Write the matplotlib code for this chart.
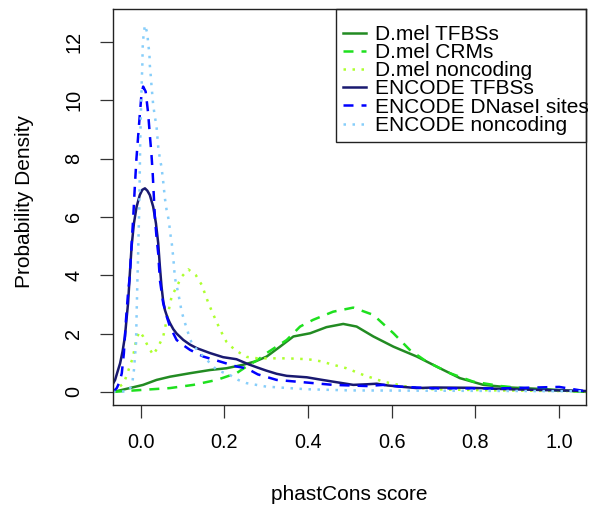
import matplotlib
matplotlib.use("Agg")
import matplotlib.pyplot as plt
from matplotlib.patches import Rectangle

plt.rcParams['font.family'] = ['Liberation Sans', 'DejaVu Sans']

# ---- data ----
dmel_tfbs_x = [-0.065, -0.026, 0.006, 0.038, 0.07, 0.118, 0.166, 0.205, 0.245, 0.275, 0.301, 0.333,
               0.365, 0.405, 0.444, 0.484, 0.516, 0.556, 0.604, 0.66, 0.715, 0.763, 0.819, 0.882,
               0.97, 1.064]
dmel_tfbs_y = [0.0, 0.13, 0.24, 0.41, 0.52, 0.64, 0.75, 0.81, 0.93, 1.05, 1.21, 1.55,
               1.9, 2.01, 2.22, 2.33, 2.24, 1.9, 1.55, 1.21, 0.81, 0.47, 0.24, 0.15,
               0.09, 0.0]

dmel_crm_x = [-0.065, 0.006, 0.07, 0.126, 0.182, 0.229, 0.253, 0.28, 0.301, 0.349, 0.381, 0.412,
              0.46, 0.508, 0.556, 0.604, 0.643, 0.683, 0.739, 0.795, 0.86, 0.94, 1.064]
dmel_crm_y = [0.0, 0.07, 0.13, 0.24, 0.41, 0.64, 0.87, 1.1, 1.33, 1.78, 2.24, 2.47,
              2.75, 2.89, 2.64, 2.01, 1.44, 1.04, 0.64, 0.35, 0.2, 0.09, 0.0]

dmel_nc_x = [-0.066, -0.04, -0.026, -0.018, -0.014, -0.008, -0.002, 0.006, 0.018, 0.030, 0.042,
             0.054, 0.064, 0.074, 0.086, 0.098, 0.114, 0.132, 0.146, 0.162, 0.174, 0.19, 0.205,
             0.225, 0.253, 0.28, 0.301, 0.35, 0.40, 0.43, 0.46, 0.492, 0.532, 0.58, 0.636, 0.70,
             0.85, 1.064]
dmel_nc_y = [0.0, 0.3, 0.87, 1.2, 1.55, 1.9, 2.07, 1.9, 1.55, 1.27, 1.55,
             1.9, 2.58, 3.27, 3.6, 3.95, 4.2, 4.0, 3.67, 3.04, 2.64, 2.13, 1.72,
             1.44, 1.2, 1.15, 1.15, 1.15, 1.12, 1.05, 0.93, 0.81, 0.58, 0.35, 0.18, 0.09,
             0.05, 0.02]

enc_tfbs_x = [-0.066, -0.061, -0.055, -0.049, -0.043, -0.0375, -0.033, -0.030, -0.026, -0.0215,
              -0.016, -0.0096, -0.002, 0.004, 0.0103, 0.016, 0.022, 0.030, 0.0366, 0.042, 0.046,
              0.050, 0.054, 0.058, 0.064, 0.070, 0.078, 0.086, 0.102, 0.118, 0.134, 0.166, 0.197,
              0.229, 0.257, 0.28, 0.30, 0.325, 0.349, 0.397, 0.43, 0.46, 0.508, 0.54, 0.564,
              0.59, 0.62, 0.66, 0.70, 0.79, 0.86, 0.94, 1.0, 1.064]
enc_tfbs_y = [0.28, 0.41, 0.7, 0.98, 1.4, 1.9, 2.6, 3.04, 4.0, 5.0,
              5.78, 6.35, 6.75, 6.93, 6.98, 6.9, 6.75, 6.35, 5.78, 5.1, 4.3,
              3.6, 3.1, 2.81, 2.55, 2.36, 2.15, 2.0, 1.78, 1.62, 1.5, 1.33, 1.19,
              1.12, 0.95, 0.83, 0.73, 0.62, 0.55, 0.50, 0.42, 0.35, 0.24, 0.26, 0.28,
              0.22, 0.18, 0.13, 0.15, 0.14, 0.1, 0.07, 0.05, 0.03]

enc_dnase_x = [-0.066, -0.057, -0.050, -0.045, -0.040, -0.035, -0.030, -0.026, -0.021, -0.018,
               -0.014, -0.010, -0.006, -0.002, 0.002, 0.006, 0.012, 0.018, 0.022, 0.026, 0.029,
               0.034, 0.038, 0.042, 0.046, 0.054, 0.062, 0.070, 0.086, 0.102, 0.118, 0.150, 0.19,
               0.229, 0.253, 0.28, 0.325, 0.397, 0.46, 0.54, 0.58, 0.62, 0.70, 0.86, 1.0, 1.03,
               1.064]
enc_dnase_y = [0.0, 0.13, 0.35, 0.64, 1.33, 2.47, 3.4, 3.95, 5.2, 5.9,
               7.0, 8.0, 8.75, 9.5, 10.2, 10.47, 10.3, 9.55, 8.81, 8.12, 7.45,
               6.0, 5.3, 4.75, 3.84, 3.04, 2.6, 2.24, 1.78, 1.6, 1.44, 1.21, 1.04,
               0.87, 0.81, 0.6, 0.41, 0.32, 0.24, 0.2, 0.24, 0.18, 0.12, 0.12, 0.17, 0.1,
               0.02]

enc_nc_x = [-0.066, -0.03, -0.022, -0.019, -0.016, -0.011, -0.0095, -0.0075, -0.0065, -0.005,
            -0.003, -0.002, -0.001, 0.001, 0.003, 0.004, 0.005, 0.007, 0.0103, 0.016, 0.018,
            0.021, 0.022, 0.024, 0.026, 0.030, 0.034, 0.038, 0.042, 0.046, 0.050, 0.054, 0.058,
            0.062, 0.068, 0.07, 0.074, 0.078, 0.082, 0.09, 0.098, 0.106, 0.114, 0.122, 0.138,
            0.158, 0.182, 0.213, 0.233, 0.253, 0.30, 0.397, 0.5, 0.7, 0.9, 1.064]
enc_nc_y = [0.0, 0.02, 0.2, 0.41, 0.75, 1.67, 2.7, 3.95, 4.41, 5.32,
            6.47, 7.55, 8.58, 9.74, 10.8, 11.15, 11.84, 12.24, 12.58, 12.3, 11.95,
            11.6, 11.2, 10.87, 10.5, 9.84, 9.44, 9.1, 8.41, 8.0, 7.7, 7.2, 6.64,
            6.24, 5.84, 5.5, 5.15, 4.6, 3.9, 3.38, 2.75, 2.36, 2.0, 1.67, 1.38,
            1.1, 0.75, 0.58, 0.41, 0.3, 0.18, 0.09, 0.05, 0.04, 0.03, 0.02]

labels = ["D.mel TFBSs", "D.mel CRMs", "D.mel noncoding",
          "ENCODE TFBSs", "ENCODE DNaseI sites", "ENCODE noncoding"]
colors = ["#228B22", "#1EE01E", "#ADFF2F", "#191970", "#0000FF", "#87CEFA"]
x_ticks = [0.0, 0.2, 0.4, 0.6, 0.8, 1.0]
x_tick_labels = ["0.0", "0.2", "0.4", "0.6", "0.8", "1.0"]
y_ticks = [0, 2, 4, 6, 8, 10, 12]

series = [(dmel_tfbs_x, dmel_tfbs_y), (dmel_crm_x, dmel_crm_y), (dmel_nc_x, dmel_nc_y),
          (enc_tfbs_x, enc_tfbs_y), (enc_dnase_x, enc_dnase_y), (enc_nc_x, enc_nc_y)]
dash_solid = None
dash_dashed = (4, 3.2)
dash_dotted = (1, 2.6)
dashes = [dash_solid, dash_dashed, dash_dotted, dash_solid, dash_dashed, dash_dotted]

fig = plt.figure(figsize=(5.91, 5.05), dpi=100)
ax = fig.add_axes([113/591, 1-405/505, (586-113)/591, (405-9)/505])

handles = []
for (xs, ys), c, d, lab in zip(series, colors, dashes, labels):
    if d is None:
        h, = ax.plot(xs, ys, color=c, lw=1.8, label=lab, solid_joinstyle='round')
    else:
        h, = ax.plot(xs, ys, color=c, lw=1.8, label=lab, dashes=d, dash_capstyle='butt')
    handles.append(h)

ax.set_xlim(-0.066, 1.064)
ax.set_ylim(-0.45, 13.13)
ax.set_xticks(x_ticks)
ax.set_xticklabels(x_tick_labels)
ax.set_yticks(y_ticks)
ax.set_yticklabels([str(v) for v in y_ticks], rotation=90, va='center')
ax.tick_params(axis='both', direction='out', length=9.4, width=0.9, color='#333333',
               labelsize=14.3)
ax.tick_params(axis='x', pad=11)
ax.tick_params(axis='y', pad=12)
for s in ax.spines.values():
    s.set_linewidth(1.0)
    s.set_color('#222222')

fig.text(349.5/591, 1-495/505, "phastCons score", ha='center', va='center', fontsize=15)
fig.text(25/591, 1-201/505, "Probability Density", ha='center', va='center', rotation=90,
         fontsize=15)

# legend box drawn separately (text overflows the box as in the reference)
bx0 = (336-113)/473
by0 = (405-141.7)/396
ax.add_patch(Rectangle((bx0, by0), 1-bx0, 1-by0, transform=ax.transAxes, fill=False,
                       edgecolor='#222222', lw=1.0, zorder=5, clip_on=False))
leg = ax.legend(handles=handles, loc='upper left', bbox_to_anchor=((343-113)/473, 1.0 - 16/396),
                frameon=False, fontsize=15.0, handlelength=1.1, handletextpad=0.45,
                labelspacing=-0.04, borderpad=0, borderaxespad=0)

fig.savefig("out.png", dpi=100)
